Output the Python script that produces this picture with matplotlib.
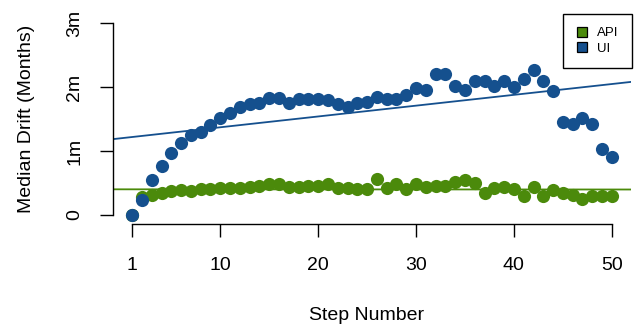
import numpy as np
import matplotlib
matplotlib.use("Agg")
import matplotlib.pyplot as plt
from matplotlib.lines import Line2D

plt.rcParams['font.family'] = ['Liberation Sans', 'DejaVu Sans']

# median drift per step, in months
steps = list(range(1, 51))
ui_drift = [0.00, 0.24, 0.55, 0.77, 0.97, 1.12, 1.25, 1.30, 1.41, 1.51,
            1.60, 1.68, 1.73, 1.75, 1.83, 1.83, 1.75, 1.82, 1.81, 1.81,
            1.80, 1.73, 1.69, 1.75, 1.77, 1.85, 1.82, 1.82, 1.87, 1.98,
            1.95, 2.21, 2.21, 2.02, 1.95, 2.10, 2.10, 2.02, 2.10, 2.00,
            2.12, 2.26, 2.10, 1.94, 1.46, 1.42, 1.51, 1.43, 1.03, 0.90]
api_drift = [0.00, 0.28, 0.31, 0.35, 0.37, 0.39, 0.38, 0.40, 0.40, 0.43,
             0.43, 0.43, 0.44, 0.45, 0.49, 0.48, 0.44, 0.44, 0.45, 0.45,
             0.48, 0.42, 0.42, 0.41, 0.41, 0.56, 0.43, 0.49, 0.40, 0.48,
             0.44, 0.45, 0.45, 0.52, 0.55, 0.50, 0.35, 0.42, 0.44, 0.41,
             0.29, 0.44, 0.29, 0.39, 0.34, 0.31, 0.25, 0.29, 0.29, 0.29]

x_ticks = [1, 10, 20, 30, 40, 50]
y_ticks = [0, 1, 2, 3]
y_tick_labels = ['0', '1m', '2m', '3m']

api_color = '#4b8a0b'
ui_color = '#15508e'

W, H = 634, 326
fig = plt.figure(figsize=(W / 100, H / 100), dpi=100)
# plot region in pixels: x 113..631, y 15..224
ax = fig.add_axes([113 / W, 1 - 224 / H, (631 - 113) / W, (224 - 15) / H])

xs = np.array(steps)
xlo, xhi = -0.96, 51.96
line_x = np.array([xlo, xhi])

# trend lines (least squares)
for vals, col in [(api_drift, api_color), (ui_drift, ui_color)]:
    b, a = np.polyfit(xs, vals, 1)
    ax.plot(line_x, a + b * line_x, color=col, lw=1.3, zorder=1)

ax.scatter(xs, api_drift, s=90, color=api_color, linewidths=0, zorder=2)
ax.scatter(xs, ui_drift, s=90, color=ui_color, linewidths=0, zorder=3)

ax.set_xlim(xlo, xhi)
ax.set_ylim(-0.14, 3.125)

for side in ['top', 'right']:
    ax.spines[side].set_visible(False)
ax.spines['bottom'].set_bounds(1, 50)
ax.spines['left'].set_bounds(0, 3)
for side in ['bottom', 'left']:
    ax.spines[side].set_linewidth(1.0)

ax.set_xticks(x_ticks)
ax.set_yticks(y_ticks)
ax.set_yticklabels(y_tick_labels, rotation=90, va='center')
ax.tick_params(axis='both', length=9.5, width=1.0, labelsize=14, direction='out')
ax.tick_params(axis='x', pad=14)
ax.tick_params(axis='y', pad=12)

fig.text(367 / W, 1 - 315 / H, 'Step Number', ha='center', va='center', fontsize=14)
fig.text(27 / W, 1 - 119 / H, 'Median Drift (Months)', rotation=90,
         ha='center', va='center', fontsize=14)

handles = [Line2D([], [], ls='none', marker='s', markersize=6.5,
                  markerfacecolor=c, markeredgecolor='black', markeredgewidth=0.9)
           for c in (api_color, ui_color)]
leg = fig.legend(handles, ['API', 'UI'], loc='upper right',
                 bbox_to_anchor=(632 / W, 1 - 14 / H),
                 fontsize=9.5, frameon=True, fancybox=False, framealpha=1,
                 edgecolor='black', handlelength=0.9, handletextpad=0.7,
                 borderpad=1.0, labelspacing=0.25, borderaxespad=0)
leg.get_frame().set_linewidth(1.0)

fig.savefig('out.png', dpi=100)
